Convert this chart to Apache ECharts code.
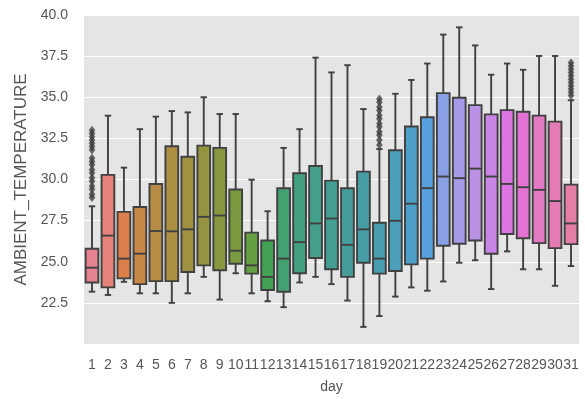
<!DOCTYPE html>
<html>
<head>
<meta charset="utf-8">
<script src="https://cdn.jsdelivr.net/npm/echarts@6/dist/echarts.min.js"></script>
<style>
  html, body { margin: 0; padding: 0; background: #ffffff; }
  #chart { width: 585px; height: 399px; }
</style>
</head>
<body>
<div id="chart"></div>
<script>
// Daily distribution of ambient temperature (box = quartiles, whiskers = 1.5 IQR)
const days = ['1','2','3','4','5','6','7','8','9','10','11','12','13','14','15','16',
              '17','18','19','20','21','22','23','24','25','26','27','28','29','30','31'];
const whiskerLow  = [23.18,22.98,23.78,23.08,23.08,22.50,23.08,24.08,22.70,24.30,23.08,22.60,22.24,23.74,24.08,23.64,
                     22.64,21.04,21.70,22.88,23.44,23.24,23.80,24.94,25.09,23.34,25.63,24.54,24.54,23.54,24.74];
const q1          = [23.74,23.44,23.99,23.64,23.82,23.82,24.38,24.78,24.48,24.88,24.28,23.28,23.18,24.30,25.23,24.54,
                     24.08,24.94,24.28,24.44,24.84,25.19,25.97,26.09,26.29,25.49,26.69,26.43,26.13,25.83,26.07];
const median      = [24.64,26.59,25.19,25.49,26.87,26.85,26.97,27.73,27.81,25.67,24.78,24.08,25.19,26.19,27.33,27.63,
                     26.03,26.97,25.19,27.49,28.53,29.47,30.18,30.08,30.66,30.18,29.73,29.53,29.37,28.69,27.33];
const q3          = [25.79,30.28,28.03,28.33,29.73,32.02,31.38,32.06,31.92,29.39,26.77,26.29,29.47,30.38,30.82,29.93,
                     29.47,30.48,27.37,31.78,33.22,33.78,35.25,34.97,34.52,33.96,34.22,34.12,33.88,33.52,29.69];
const whiskerHigh = [28.37,33.88,30.72,33.06,33.82,34.16,34.08,35.00,33.98,33.98,29.99,28.07,31.92,33.06,37.41,36.51,
                     36.95,34.28,31.85,35.21,36.05,37.05,38.81,39.25,38.15,36.37,37.05,36.67,37.51,37.51,34.82];
const outliersDay1  = [33.0,32.8,32.6,32.4,32.2,32.0,31.8,31.3,31.1,30.9,30.6,30.4,30.1,29.9,29.6,29.4,29.1,28.9];
const outliersDay19 = [32.1,32.4,32.7,32.9,33.2,33.4,33.7,33.9,34.2,34.4,34.7,34.9];
const outliersDay31 = [35.1,35.3,35.5,35.7,35.9,36.1,36.3,36.5,36.7,36.9,37.1];

// ---- HUSL palette (h=.01, s=.9, l=.65) desaturated to 0.75 ----
const M = [[3.240969941904521, -1.537383177570093, -0.498610760293],
           [-0.96924363628087, 1.87596750150772, 0.041555057407175],
           [0.055630079696993, -0.20397695888897, 1.056971514242878]];
const refU = 0.19783000664283, refV = 0.46831999493879;
function maxChroma(L, H) {
  const hr = H * Math.PI / 180, sinH = Math.sin(hr), cosH = Math.cos(hr);
  const sub1 = Math.pow(L + 16, 3) / 1560896;
  const sub2 = sub1 > 0.008856 ? sub1 : L / 903.3;
  let res = Infinity;
  for (const [m1, m2, m3] of M) {
    const top = (0.99915 * m1 + 1.05122 * m2 + 1.14460 * m3) * sub2;
    const rb = 0.86330 * m3 - 0.17266 * m2;
    const lb = 0.12949 * m3 - 0.38848 * m1;
    const bottom = (rb * sinH + lb * cosH) * sub2;
    for (const t of [0, 1]) {
      const C = L * (top - 1.05122 * t) / (bottom + 0.17266 * sinH * t);
      if (C > 0 && C < res) res = C;
    }
  }
  return res;
}
function huslToRgb(H, S, L) {
  const C = maxChroma(L, H) / 100 * S;
  const hr = H * Math.PI / 180;
  const U = Math.cos(hr) * C, V = Math.sin(hr) * C;
  const t = (L + 16) / 116;
  const Y = Math.pow(t, 3) > 0.008856 ? Math.pow(t, 3) : (116 * t - 16) / 903.3;
  const vu = U / (13 * L) + refU, vv = V / (13 * L) + refV;
  const X = -(9 * Y * vu) / ((vu - 4) * vv - vu * vv);
  const Z = (9 * Y - 15 * vv * Y - vv * X) / (3 * vv);
  return M.map(r => {
    const c = r[0] * X + r[1] * Y + r[2] * Z;
    const g = c <= 0.0031308 ? 12.92 * c : 1.055 * Math.pow(c, 1 / 2.4) - 0.055;
    return Math.min(1, Math.max(0, g));
  });
}
function rgbToHls(r, g, b) {
  const mx = Math.max(r, g, b), mn = Math.min(r, g, b);
  const l = (mx + mn) / 2;
  if (mx === mn) return [0, l, 0];
  const s = l <= 0.5 ? (mx - mn) / (mx + mn) : (mx - mn) / (2 - mx - mn);
  const rc = (mx - r) / (mx - mn), gc = (mx - g) / (mx - mn), bc = (mx - b) / (mx - mn);
  let h = r === mx ? bc - gc : (g === mx ? 2 + rc - bc : 4 + gc - rc);
  h = ((h / 6) % 1 + 1) % 1;
  return [h, l, s];
}
function hlsToRgb(h, l, s) {
  if (s === 0) return [l, l, l];
  const m2 = l <= 0.5 ? l * (1 + s) : l + s - l * s;
  const m1 = 2 * l - m2;
  const v = hue => {
    hue = ((hue % 1) + 1) % 1;
    if (hue < 1 / 6) return m1 + (m2 - m1) * hue * 6;
    if (hue < 0.5) return m2;
    if (hue < 2 / 3) return m1 + (m2 - m1) * (2 / 3 - hue) * 6;
    return m1;
  };
  return [v(h + 1 / 3), v(h), v(h - 1 / 3)];
}
const toHex = rgb => '#' + rgb.map(c => Math.round(c * 255).toString(16).padStart(2, '0')).join('');

const n = days.length;
const boxRgb = days.map((_, i) => {
  const hue = ((i / n + 0.01) % 1) * 359;
  const [r, g, b] = huslToRgb(hue, 0.9 * 99, 0.65 * 99);
  const [h, l, s] = rgbToHls(r, g, b);
  return hlsToRgb(h, l, s * 0.75);
});
const boxColors = boxRgb.map(toHex);
const lum = Math.min(...boxRgb.map(c => rgbToHls(c[0], c[1], c[2])[1])) * 0.6;
const edgeGray = toHex([lum, lum, lum]);

const textColor = '#555555';
const fontFamily = '"Liberation Sans", Arial, sans-serif';

const boxData = days.map((d, i) => [i, whiskerLow[i], q1[i], median[i], q3[i], whiskerHigh[i]]);
const outlierData = []
  .concat(outliersDay1.map(v => ['1', v]))
  .concat(outliersDay19.map(v => ['19', v]))
  .concat(outliersDay31.map(v => ['31', v]));

const chart = echarts.init(document.getElementById('chart'), null, { renderer: 'canvas' });
chart.setOption({
  animation: false,
  backgroundColor: '#ffffff',
  grid: {
    left: 84, right: 6, top: 15, bottom: 49,
    show: true, backgroundColor: '#e5e5e5', borderWidth: 0
  },
  xAxis: {
    type: 'category',
    data: days,
    name: 'day',
    nameLocation: 'middle',
    nameGap: 36,
    nameTextStyle: { color: textColor, fontSize: 14, fontFamily },
    axisLine: { show: false },
    axisTick: { show: false },
    splitLine: { show: false },
    axisLabel: { interval: 0, color: textColor, fontSize: 14, fontFamily, margin: 14 }
  },
  yAxis: {
    type: 'value',
    min: 20, max: 40, interval: 2.5,
    name: 'AMBIENT_TEMPERATURE',
    nameLocation: 'middle',
    nameGap: 52,
    nameTextStyle: { color: textColor, fontSize: 17, fontFamily },
    axisLine: { show: false },
    axisTick: { show: false },
    splitLine: { show: true, lineStyle: { color: '#ffffff', width: 1 } },
    axisLabel: {
      color: textColor, fontSize: 14, fontFamily, margin: 16,
      formatter: v => (v === 20 ? '' : v.toFixed(1))
    }
  },
  series: [
    {
      type: 'custom',
      data: boxData,
      encode: { x: 0, y: [1, 2, 3, 4, 5] },
      renderItem: (params, api) => {
        const i = api.value(0);
        const x = api.coord([i, 0])[0];
        const band = api.size([1, 0])[0];
        const bw = band * 0.8, cw = bw * 0.5;
        const yLo = api.coord([i, api.value(1)])[1];
        const yQ1 = api.coord([i, api.value(2)])[1];
        const yMed = api.coord([i, api.value(3)])[1];
        const yQ3 = api.coord([i, api.value(4)])[1];
        const yHi = api.coord([i, api.value(5)])[1];
        const line = { stroke: edgeGray, lineWidth: 1.9 };
        return {
          type: 'group',
          children: [
            { type: 'line', shape: { x1: x, y1: yQ3, x2: x, y2: yHi }, style: line },
            { type: 'line', shape: { x1: x, y1: yQ1, x2: x, y2: yLo }, style: line },
            { type: 'line', shape: { x1: x - cw / 2, y1: yHi, x2: x + cw / 2, y2: yHi }, style: line },
            { type: 'line', shape: { x1: x - cw / 2, y1: yLo, x2: x + cw / 2, y2: yLo }, style: line },
            { type: 'rect', shape: { x: x - bw / 2, y: yQ3, width: bw, height: yQ1 - yQ3 },
              style: { fill: boxColors[i], stroke: edgeGray, lineWidth: 1.9 } },
            { type: 'line', shape: { x1: x - bw / 2, y1: yMed, x2: x + bw / 2, y2: yMed }, style: line }
          ]
        };
      }
    },
    {
      type: 'scatter',
      data: outlierData,
      symbol: 'diamond',
      symbolSize: [6, 8],
      itemStyle: { color: edgeGray, borderColor: edgeGray, borderWidth: 0.5 },
      z: 3
    }
  ]
});
</script>
</body>
</html>
